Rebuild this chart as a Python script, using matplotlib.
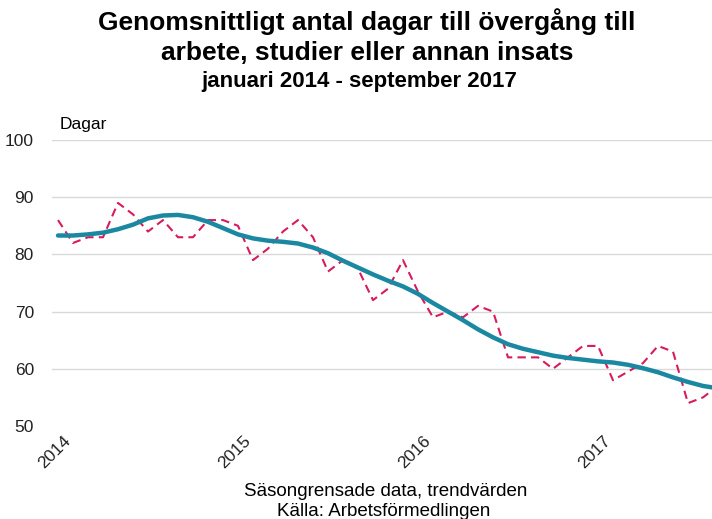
import numpy as np
import matplotlib.pyplot as plt
from matplotlib.transforms import ScaledTranslation

plt.rcParams['font.family'] = ['Liberation Sans', 'DejaVu Sans']

# Månadsdata januari 2014 - september 2017
months = np.arange(45)
year_labels = ["2014", "2015", "2016", "2017"]
year_ticks = [0, 12, 24, 36]

saesongrensad = [86, 82, 83, 83, 89, 87, 84, 86, 83, 83, 86, 86,
                 85, 79, 81, 84, 86, 83, 77, 79, 77.5, 72, 74, 79,
                 73.5, 69, 70, 69, 71, 70, 62, 62, 62, 60, 62, 64,
                 64, 58, 59.5, 61, 64, 63, 54, 55, 57]

trend = [83.3, 83.3, 83.5, 83.8, 84.4, 85.2, 86.3, 86.8, 86.9, 86.5, 85.7, 84.6,
         83.5, 82.8, 82.4, 82.2, 81.9, 81.2, 80.2, 78.9, 77.7, 76.5, 75.4, 74.4,
         73.1, 71.5, 70.0, 68.5, 66.9, 65.5, 64.3, 63.5, 62.9, 62.3, 61.9, 61.6,
         61.3, 61.1, 60.7, 60.1, 59.4, 58.5, 57.7, 57.0, 56.6]

fig = plt.figure(figsize=(7.12, 5.19), dpi=100)
ax = fig.add_axes([52 / 712, 1 - 426 / 519, 1 - 52 / 712, (426 - 140) / 519])

ax.plot(months, saesongrensad, color='#d81b5e', lw=1.5, dashes=(4, 2.5))
ax.plot(months, trend, color='#1b88a2', lw=3.2, solid_capstyle='round')

ax.set_ylim(50, 100)
ax.set_xlim(-0.4, 43.6)
ax.set_yticks([50, 60, 70, 80, 90, 100])
ax.set_xticks(year_ticks)
ax.set_xticklabels(year_labels, rotation=45, ha='right', rotation_mode='anchor')
ax.tick_params(length=0, labelsize=12.5, colors='#222222')
ax.tick_params(axis='x', pad=5)
ax.tick_params(axis='y', pad=13)
shift = ScaledTranslation(5 / 100, 0, fig.dpi_scale_trans)
for lbl in ax.get_xticklabels():
    lbl.set_transform(lbl.get_transform() + shift)

for spine in ax.spines.values():
    spine.set_visible(False)
ax.grid(axis='y', color='#d9d9d9', lw=1)
ax.set_axisbelow(True)
for gl in ax.get_ygridlines()[:1]:
    gl.set_visible(False)

fig.text(60 / 712, 1 - 125 / 519, "Dagar", fontsize=12.5, va='center', ha='left')

fig.text(367 / 712, 1 - 22 / 519, "Genomsnittligt antal dagar till övergång till",
         fontsize=19, fontweight='bold', ha='center', va='center')
fig.text(367 / 712, 1 - 53 / 519, "arbete, studier eller annan insats",
         fontsize=19, fontweight='bold', ha='center', va='center')
fig.text(359 / 712, 1 - 81 / 519, "januari 2014 - september 2017",
         fontsize=16, fontweight='bold', ha='center', va='center')

fig.text(386 / 712, 1 - 491 / 519, "Säsongrensade data, trendvärden",
         fontsize=13.5, ha='center', va='center')
fig.text(384 / 712, 1 - 511 / 519, "Källa: Arbetsförmedlingen",
         fontsize=13.5, ha='center', va='center')

fig.savefig("out.png", dpi=100)
